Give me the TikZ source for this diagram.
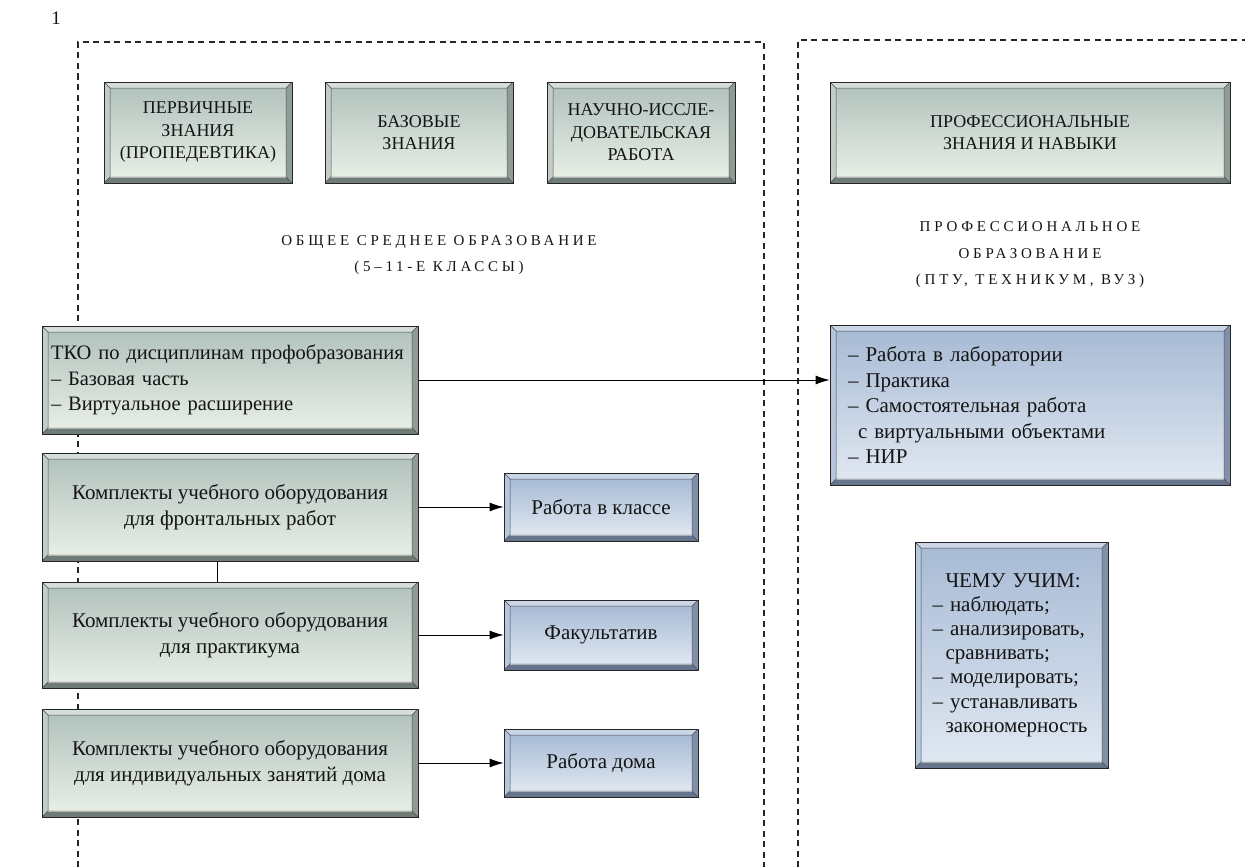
\documentclass[tikz,border=0pt]{standalone}
\usepackage{fontspec}
\setmainfont{Liberation Serif}
\newfontfamily\spacedfont[LetterSpace=25]{Liberation Serif}
\usetikzlibrary{arrows.meta,calc}
\definecolor{txt}{HTML}{141414}
\definecolor{gT}{HTML}{B3C3BD}
\definecolor{gB}{HTML}{E7EEE6}
\definecolor{gbt}{HTML}{D6DEDA}
\definecolor{gbl}{HTML}{C2CDC8}
\definecolor{gbr}{HTML}{8F9B95}
\definecolor{gbb}{HTML}{6F7B76}
\definecolor{bT}{HTML}{A8BBD5}
\definecolor{bB}{HTML}{DFE7F1}
\definecolor{bbt}{HTML}{CAD6E6}
\definecolor{bbl}{HTML}{B6C6DC}
\definecolor{bbr}{HTML}{8090A8}
\definecolor{bbb}{HTML}{66758C}
\newcommand\bevdraw[1]{%
  \coordinate (pSW) at (path picture bounding box.south west);
  \coordinate (pNE) at (path picture bounding box.north east);
  \coordinate (pNW) at (path picture bounding box.north west);
  \coordinate (pSE) at (path picture bounding box.south east);
  \coordinate (iSW) at ($(pSW)+(6pt,6pt)$);
  \coordinate (iNE) at ($(pNE)+(-6pt,-6pt)$);
  \coordinate (iNW) at ($(pNW)+(6pt,-6pt)$);
  \coordinate (iSE) at ($(pSE)+(-6pt,6pt)$);
  \fill[#1bt] (pNW) -- (pNE) -- (iNE) -- (iNW) -- cycle;
  \fill[#1bl] (pNW) -- (iNW) -- (iSW) -- (pSW) -- cycle;
  \fill[#1br] (pNE) -- (pSE) -- (iSE) -- (iNE) -- cycle;
  \fill[#1bb] (pSW) -- (iSW) -- (iSE) -- (pSE) -- cycle;
  \shade[top color=#1T, bottom color=#1B] (iSW) rectangle (iNE);
  \draw[black!70, line width=0.5pt] (iSW) rectangle (iNE)
    (pNW) -- (iNW) (pNE) -- (iNE) (pSW) -- (iSW) (pSE) -- (iSE);
}
\tikzset{
  bev/.style={rectangle, draw=black!85, line width=0.8pt, inner sep=0pt,
    text=txt, path picture={\bevdraw{#1}}},
  capbox/.style={bev=g, minimum width=188pt, minimum height=101pt, align=center,
    font=\fontsize{18}{22.5}\selectfont},
  bodyg/.style={bev=g, minimum width=376pt, font=\fontsize{21}{25.5}\selectfont},
  bodyb/.style={bev=b, font=\fontsize{21}{25.5}\selectfont},
  frame/.style={dash pattern=on 6pt off 4.5pt, line width=1.1pt, black!85},
  conn/.style={line width=0.9pt, black},
  arr/.style={conn, -{Latex[length=14pt,width=9pt]}},
  sect/.style={text=txt, align=center, font=\spacedfont\fontsize{15}{26.5}\selectfont}
}
\begin{document}
\begin{tikzpicture}[x=1pt,y=-1pt]
\useasboundingbox (0,0) rectangle (1249,867);
\node[text=txt, font=\fontsize{19}{20}\selectfont] (num) at (56,18) {1};
% dashed regions
\draw[frame] (78,867) -- (78,42) -- (764,42) -- (764,867);
\draw[frame] (798,867) -- (798,40) -- (1245,40);
% top boxes
\node[capbox] (b1) at (198,132.5) {ПЕРВИЧНЫЕ\\ЗНАНИЯ\\(ПРОПЕДЕВТИКА)};
\node[capbox] (b2) at (419,132.5) {БАЗОВЫЕ\\ЗНАНИЯ};
\node[capbox] (b3) at (641,132.5) {НАУЧНО-ИССЛЕ-\\ДОВАТЕЛЬСКАЯ\\РАБОТА};
\node[capbox, minimum width=400pt] (b4) at (1030,132.5) {ПРОФЕССИОНАЛЬНЫЕ\\ЗНАНИЯ И НАВЫКИ};
% section labels
\node[sect] (s1) at (439,255) {ОБЩЕЕ СРЕДНЕЕ ОБРАЗОВАНИЕ\\(5–11-Е КЛАССЫ)};
\node[sect] (s2) at (1030,255) {ПРОФЕССИОНАЛЬНОЕ\\ОБРАЗОВАНИЕ\\(ПТУ, ТЕХНИКУМ, ВУЗ)};
% left column
\node[bodyg, minimum height=108pt, text width=358pt, align=left,
  font=\fontsize{20.5}{25.5}\selectfont] (tko) at (230,380)
  {ТКО по дисциплинам профобразования\\– Базовая часть\\– Виртуальное расширение};
\node[bodyg, minimum height=108pt, align=center] (k1) at (230,507)
  {Комплекты учебного оборудования\\для фронтальных работ};
\node[bodyg, minimum height=106pt, align=center] (k2) at (230,635)
  {Комплекты учебного оборудования\\для практикума};
\node[bodyg, minimum height=108pt, align=center] (k3) at (230,763)
  {Комплекты учебного оборудования\\для индивидуальных занятий дома};
% middle blue boxes
\node[bodyb, minimum width=194pt, minimum height=68pt] (rk) at (601,507) {Работа в классе};
\node[bodyb, minimum width=194pt, minimum height=70pt] (fak) at (601,635) {Факультатив};
\node[bodyb, minimum width=194pt, minimum height=68pt] (dom) at (601,763) {Работа дома};
% right blue boxes
\node[bodyb, minimum width=400pt, minimum height=160pt, text width=364pt, align=left] (pr) at (1030,405)
  {– Работа в лаборатории\\– Практика\\– Самостоятельная работа\\\hspace*{10pt}с виртуальными объектами\\– НИР};
\node[bodyb, minimum width=193pt, minimum height=226pt, text width=158pt, align=left,
  font=\fontsize{21}{24.2}\selectfont] (chemu) at (1011.5,655)
  {\hspace*{13pt}ЧЕМУ УЧИМ:\\– наблюдать;\\– анализировать,\\\hspace*{13pt}сравнивать;\\– моделировать;\\– устанавливать\\\hspace*{13pt}закономерность};
% connectors
\draw[arr] (tko.east) -- (tko.east -| pr.west);
\draw[arr] (k1.east) -- (rk.west);
\draw[arr] (k2.east) -- (fak.west);
\draw[arr] (k3.east) -- (dom.west);
\draw[conn] ([xshift=-13pt]k1.south) -- ([xshift=-13pt]k2.north);
\end{tikzpicture}
\end{document}
